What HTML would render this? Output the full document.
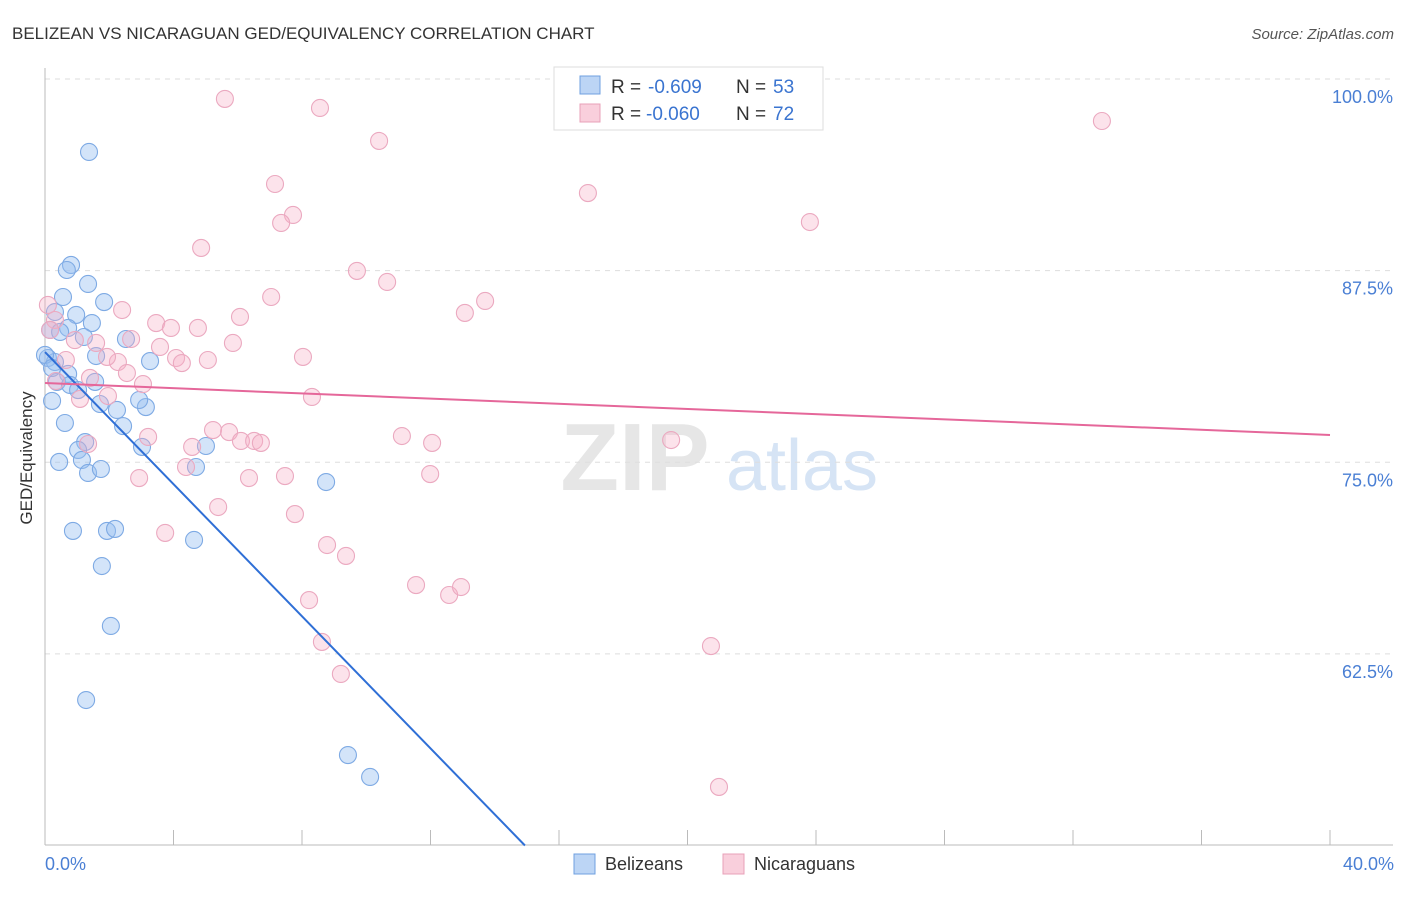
<!DOCTYPE html>
<html><head><meta charset="utf-8">
<style>
body{margin:0;background:#fff;font-family:"Liberation Sans",sans-serif;}
svg text{font-family:"Liberation Sans",sans-serif;}
</style></head>
<body>
<svg id="chart" width="1406" height="892" xmlns="http://www.w3.org/2000/svg">
<text x="12" y="39" font-size="17" fill="#333">BELIZEAN VS NICARAGUAN GED/EQUIVALENCY CORRELATION CHART</text>
<text x="1394" y="39" font-size="15" fill="#555" font-style="italic" text-anchor="end">Source: ZipAtlas.com</text>
<g>
<text x="635" y="490" font-size="96" font-family="Liberation Serif,serif" fill="#e6e6e6" text-anchor="middle" font-weight="bold">ZIP</text>
<text x="802" y="490" font-size="72" fill="#d6e4f5" text-anchor="middle">atlas</text>
</g>
<g id="grid"></g>
<g id="axes"></g>
<g id="pts"></g>
<g id="trend"></g>
<text x="32" y="458" font-size="17" fill="#333" text-anchor="middle" transform="rotate(-90 32 458)">GED/Equivalency</text>
<text x="45" y="870" font-size="18" fill="#4a7fd4">0.0%</text>
<text x="1394" y="870" font-size="18" fill="#4a7fd4" text-anchor="end">40.0%</text>
<g>
<rect x="554" y="67" width="269" height="63" fill="#fff" stroke="#ddd"/>
<rect x="580" y="76" width="20" height="18" fill="#bcd5f5" stroke="#6fa0e0"/>
<text x="611" y="93" font-size="19" fill="#333">R =</text>
<text x="648" y="93" font-size="19" fill="#3a74d0">-0.609</text>
<text x="736" y="93" font-size="19" fill="#333">N =</text>
<text x="773" y="93" font-size="19" fill="#3a74d0">53</text>
<rect x="580" y="104" width="20" height="18" fill="#f9cfdc" stroke="#e8a0b8"/>
<text x="611" y="120" font-size="19" fill="#333">R =</text>
<text x="646" y="120" font-size="19" fill="#3a74d0">-0.060</text>
<text x="736" y="120" font-size="19" fill="#333">N =</text>
<text x="773" y="120" font-size="19" fill="#3a74d0">72</text>
</g>
<g>
<rect x="574" y="854" width="21" height="20" fill="#bcd5f5" stroke="#6fa0e0"/>
<text x="605" y="870" font-size="18" fill="#333">Belizeans</text>
<rect x="723" y="854" width="21" height="20" fill="#f9cfdc" stroke="#e8a0b8"/>
<text x="754" y="870" font-size="18" fill="#333">Nicaraguans</text>
</g>
</svg>
<script>
const yTicks=[100,87.5,75,62.5];
const yTickLabels=["100.0%","87.5%","75.0%","62.5%"];
const xTicks=[4,8,12,16,20,24,28,32,36,40];
const blueX=[1.37,0.81,0.68,1.34,0.56,1.84,0.31,0.97,1.46,0.72,0.16,1.21,2.52,0.47,1.59,3.27,0.09,0.31,0.72,0.37,0.78,1.56,1.03,1.71,2.24,3.14,2.93,0.22,0.62,2.43,1.25,3.02,1.03,5.01,1.15,0.44,4.70,1.34,1.74,8.75,0.87,1.93,2.18,4.64,1.77,2.05,1.28,9.43,10.12,0,0.22];
const blueY=[95.24,87.87,87.54,86.63,85.78,85.45,84.80,84.61,84.08,83.76,83.63,83.17,83.04,83.50,81.93,81.60,81.80,81.54,80.76,80.24,80.04,80.24,79.71,78.80,78.41,78.60,79.06,79.0,77.56,77.36,76.32,76.0,75.8,76.06,75.15,75.02,74.69,74.30,74.56,73.71,70.52,70.52,70.65,69.93,68.23,64.32,59.49,55.90,54.47,82.0,81.15];
const pinkX=[5.60,8.56,10.40,32.90,16.90,7.16,7.72,7.35,23.81,4.86,9.71,10.65,13.70,13.07,7.04,6.07,2.40,3.46,3.92,4.76,0.09,0.31,0.16,0.93,1.59,2.68,3.58,5.85,4.08,4.26,5.07,8.03,0.65,2.27,1.93,2.55,1.40,3.05,0.34,8.31,1.09,1.96,3.21,1.34,5.23,5.73,6.10,6.51,6.72,4.58,11.11,12.05,19.49,4.39,2.93,6.35,7.47,11.99,5.39,7.78,3.74,8.78,9.37,11.55,12.58,12.95,8.22,8.62,20.73,9.21,20.98];
const pinkY=[98.70,98.11,95.96,97.26,92.56,93.15,91.13,90.61,90.67,88.98,87.48,86.76,85.52,84.74,85.78,84.48,84.93,84.08,83.76,83.76,85.26,84.28,83.63,82.97,82.78,83.04,82.52,82.78,81.80,81.47,81.67,81.87,81.67,81.54,81.87,80.82,80.50,80.10,80.30,79.26,79.13,79.32,76.65,76.19,77.10,76.97,76.39,76.39,76.26,76.0,76.71,76.26,76.45,74.69,73.97,73.97,74.10,74.23,72.08,71.62,70.39,69.60,68.89,66.99,66.34,66.86,66.01,63.28,63.01,61.19,53.82];
const blueTrend=[[0,82.19],[14.94,50]];
const pinkTrend=[[0,80.17],[40,76.78]];
const NS="http://www.w3.org/2000/svg";
const X=v=>45+v/40*1285;
const Y=v=>79+(100-v)*15.33;
function mk(tag,attrs,parent){const e=document.createElementNS(NS,tag);for(const k in attrs)e.setAttribute(k,attrs[k]);document.getElementById(parent).appendChild(e);return e;}
yTicks.forEach((t,i)=>{
 const l=mk('line',{x1:45,x2:1393,y1:Y(t),y2:Y(t),stroke:'#ddd','stroke-dasharray':'5,5'},'grid');
 
 
 const tx=mk('text',{x:1393,y:Y(t)+24,'font-size':18,fill:'#4a7fd4','text-anchor':'end'},'grid');
 tx.textContent=yTickLabels[i];
 
 
});
const ax=mk('line',{x1:45,x2:45,y1:68,y2:845,stroke:'#bbb'},'axes');


const bx=mk('line',{x1:45,x2:1393,y1:845,y2:845,stroke:'#bbb'},'axes');


xTicks.forEach(t=>{
 const l=mk('line',{x1:X(t),x2:X(t),y1:830,y2:845,stroke:'#bbb'},'axes');
 
 
});
blueX.forEach((v,i)=>{
 const c=mk('circle',{cx:X(v),cy:Y(blueY[i]),r:8.5,fill:'rgba(150,190,240,0.42)',stroke:'#7eaae4','stroke-width':1.1},'pts');
 
 
});
pinkX.forEach((v,i)=>{
 const c=mk('circle',{cx:X(v),cy:Y(pinkY[i]),r:8.5,fill:'rgba(245,175,198,0.35)',stroke:'#eba9c0','stroke-width':1.1},'pts');
 
 
});
const bt=mk('line',{x1:X(blueTrend[0][0]),y1:Y(blueTrend[0][1]),x2:X(blueTrend[1][0]),y2:Y(blueTrend[1][1]),stroke:'#2f6fd6','stroke-width':2},'trend');


const pt=mk('line',{x1:X(pinkTrend[0][0]),y1:Y(pinkTrend[0][1]),x2:X(pinkTrend[1][0]),y2:Y(pinkTrend[1][1]),stroke:'#e5679a','stroke-width':2},'trend');


</script>
</body></html>
